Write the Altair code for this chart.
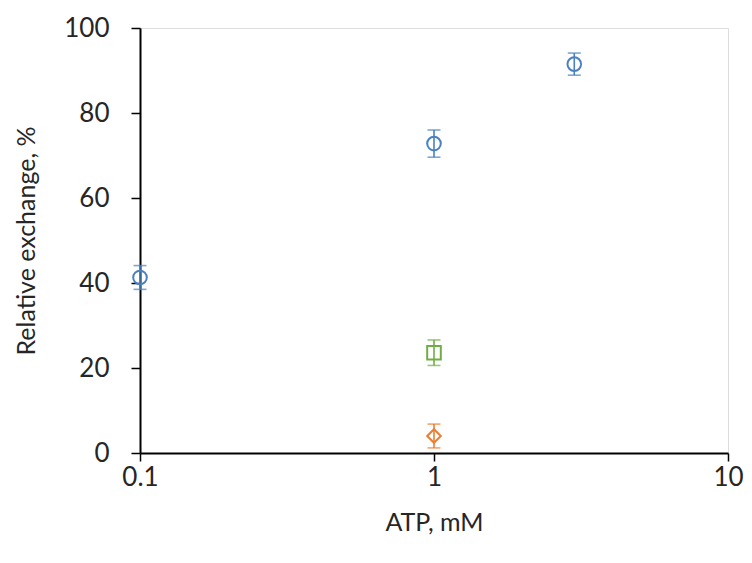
import altair as alt
import pandas as pd

atp = [0.1, 1, 3, 1, 1]
values = [41.3, 72.8, 91.5, 23.6, 4.0]
errors = [2.8, 3.2, 2.6, 3.0, 2.8]
series = ["A", "A", "A", "B", "C"]
series_names = ["A", "B", "C"]
series_colors = ["#4A80C0", "#70AD47", "#ED7D31"]
series_shapes = ["circle", "square", "diamond"]
x_ticks = [0.1, 1, 10]
y_ticks = [0, 20, 40, 60, 80, 100]

df = pd.DataFrame({"atp": atp, "value": values, "err": errors, "series": series})
df["lo"] = df["value"] - df["err"]
df["hi"] = df["value"] + df["err"]

FONT = "Lato"
TXT = "#262626"

x_scale = alt.Scale(type="log", domain=[0.1, 10])
y_scale = alt.Scale(domain=[0, 100])
color = alt.Color("series:N", scale=alt.Scale(domain=series_names, range=series_colors), legend=None)

x_axis = alt.Axis(values=x_ticks, title="ATP, mM", labelExpr="datum.value < 1 ? '0.1' : format(datum.value, 'd')",
                  grid=False, tickSize=8, tickColor="black", tickWidth=1.5, domainColor="black", domainWidth=2,
                  labelFont=FONT, labelFontSize=26, labelColor=TXT, labelPadding=3, labelFlush=False,
                  titleFont=FONT, titleFontSize=25, titleFontWeight="normal", titleColor=TXT, titlePadding=20)
y_axis = alt.Axis(values=y_ticks, title="Relative exchange, %", grid=False, tickSize=9, tickColor="black",
                  tickWidth=1.5, domainColor="black", domainWidth=2,
                  labelFont=FONT, labelFontSize=26, labelColor=TXT, labelPadding=22,
                  titleFont=FONT, titleFontSize=25, titleFontWeight="normal", titleColor=TXT, titlePadding=24)

base = alt.Chart(df)

rules = base.mark_rule(strokeWidth=1.6).encode(
    x=alt.X("atp:Q", scale=x_scale, axis=x_axis),
    y=alt.Y("lo:Q", scale=y_scale, axis=y_axis),
    y2="hi:Q",
    color=color,
)
cap_lo = base.mark_tick(orient="horizontal", size=13, thickness=1.6).encode(
    x=alt.X("atp:Q", scale=x_scale), y=alt.Y("lo:Q", scale=y_scale), color=color)
cap_hi = base.mark_tick(orient="horizontal", size=13, thickness=1.6).encode(
    x=alt.X("atp:Q", scale=x_scale), y=alt.Y("hi:Q", scale=y_scale), color=color)
points = base.mark_point(filled=False, strokeWidth=2, size=185, opacity=1).encode(
    x=alt.X("atp:Q", scale=x_scale),
    y=alt.Y("value:Q", scale=y_scale),
    color=color,
    shape=alt.Shape("series:N", scale=alt.Scale(domain=series_names, range=series_shapes), legend=None),
)

chart = (rules + cap_lo + cap_hi + points).properties(
    width=588, height=425,
    autosize=alt.AutoSizeParams(type="none"),
    padding={"left": 132, "top": 20, "right": 16, "bottom": 102},
).configure_view(stroke="black", strokeWidth=2).configure(background="white")

chart.save("out.html", embed_options={"renderer": "svg", "actions": False})
